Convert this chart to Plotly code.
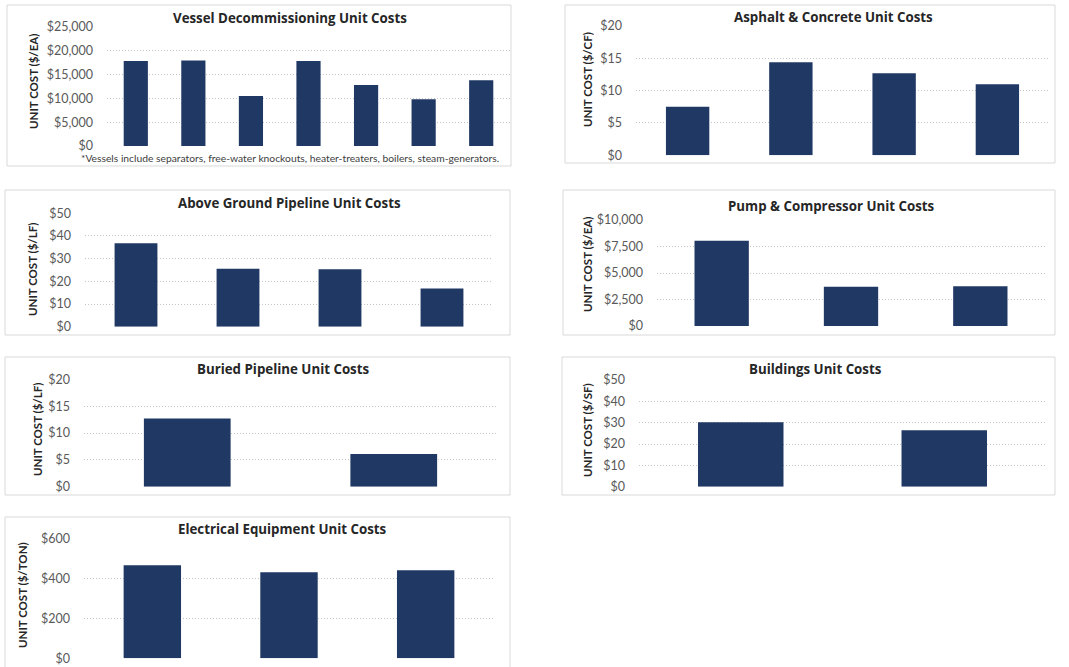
import plotly.graph_objects as go

W, H = 1069, 667

# ---- data -------------------------------------------------------------
vessel_costs = [17800, 17900, 10500, 17800, 12800, 9800, 13800]
asphalt_costs = [7.5, 14.4, 12.7, 11.0]
above_pipe_costs = [36.8, 25.6, 25.3, 16.8]
pump_costs = [8050, 3700, 3750]
buried_pipe_costs = [12.7, 6.1]
building_costs = [30.2, 26.4]
electrical_costs = [465, 430, 440]

vessel_ticks = [0, 5000, 10000, 15000, 20000, 25000]
asphalt_ticks = [0, 5, 10, 15, 20]
above_pipe_ticks = [0, 10, 20, 30, 40, 50]
pump_ticks = [0, 2500, 5000, 7500, 10000]
buried_pipe_ticks = [0, 5, 10, 15, 20]
building_ticks = [0, 10, 20, 30, 40, 50]
electrical_ticks = [0, 200, 400, 600]

titles = [
    "Vessel Decommissioning Unit Costs",
    "Asphalt & Concrete Unit Costs",
    "Above Ground Pipeline Unit Costs",
    "Pump & Compressor Unit Costs",
    "Buried Pipeline Unit Costs",
    "Buildings Unit Costs",
    "Electrical Equipment Unit Costs",
]
unit_labels = [
    "UNIT COST ($/EA)",
    "UNIT COST ($/CF)",
    "UNIT COST ($/LF)",
    "UNIT COST ($/EA)",
    "UNIT COST ($/LF)",
    "UNIT COST ($/SF)",
    "UNIT COST ($/TON)",
]
footnote = "*Vessels include separators, free-water knockouts, heater-treaters, boilers, steam-generators."

series = [vessel_costs, asphalt_costs, above_pipe_costs, pump_costs,
          buried_pipe_costs, building_costs, electrical_costs]
tick_sets = [vessel_ticks, asphalt_ticks, above_pipe_ticks, pump_ticks,
             buried_pipe_ticks, building_ticks, electrical_ticks]

# ---- layout geometry (pixels) ----------------------------------------
# plot areas: (x0, x1, y_top, y_bottom)
plot_boxes = [
    (107, 510, 26.7, 146),
    (636, 1049, 26, 155.3),
    (85, 493, 213.3, 326.7),
    (657, 1045, 220, 326),
    (84, 497, 379.3, 486.7),
    (639, 1046, 380, 486.7),
    (84, 494, 538.3, 658.3),
]
# panel frames: (x0, x1, y_top, y_bottom); None = open at the page bottom
frames = [
    (7, 511, 5, 166),
    (565, 1055, 5, 163),
    (5, 510, 190, 335),
    (563, 1055, 190, 335),
    (5, 510, 357, 495),
    (562, 1055, 357, 495),
    (5, 510, 517, None),
]
title_pos = [(290, 18), (833, 17), (289, 203), (831, 206), (283, 369), (815, 369), (282, 529)]
ylabel_pos = [(33, 82), (587, 80), (32, 270), (587, 265), (37, 430), (587, 430), (22, 595)]

BAR = "#203864"
FONT = "Lato"
TITLE_FONT = "Open Sans"
FRAME = dict(color="#d9d9d9", width=1)


def px(x):
    return x / W


def py(y):
    return 1 - y / H


def money(v):
    return "${:,.0f}".format(v)


fig = go.Figure()
shapes = []
annotations = []

for i, (vals, ticks) in enumerate(zip(series, tick_sets)):
    n = i + 1
    xa = "x" if n == 1 else f"x{n}"
    ya = "y" if n == 1 else f"y{n}"
    fig.add_trace(go.Bar(
        x=list(range(len(vals))), y=vals, width=0.42,
        marker=dict(color=BAR, line=dict(width=0)),
        xaxis=xa, yaxis=ya, showlegend=False,
        hovertemplate="%{y}<extra></extra>",
    ))
    x0, x1, yt, yb = plot_boxes[i]
    xkey = "xaxis" if n == 1 else f"xaxis{n}"
    ykey = "yaxis" if n == 1 else f"yaxis{n}"
    fig.layout[xkey] = dict(
        domain=[px(x0), px(x1)], range=[-0.5, len(vals) - 0.5],
        showticklabels=False, showgrid=False, zeroline=False,
        showline=False, ticks="", anchor=ya, fixedrange=True,
        automargin=False,
    )
    fig.layout[ykey] = dict(
        domain=[py(yb), py(yt)], range=[ticks[0], ticks[-1]],
        tickvals=ticks, ticktext=[money(t) for t in ticks],
        showgrid=True, gridcolor="#c4c4c4", griddash="1px,2px", gridwidth=1,
        zeroline=False, showline=False, ticks="",
        tickfont=dict(family=FONT, size=12.5, color="#595959"),
        ticklabelstandoff=13, anchor=xa, fixedrange=True,
        automargin=False,
    )
    fx0, fx1, fyt, fyb = frames[i]
    if fyb is None:
        # frame runs off the bottom of the page: draw left, top and right sides
        path = f"M {px(fx0)} 0 L {px(fx0)} {py(fyt)} L {px(fx1)} {py(fyt)} L {px(fx1)} 0"
        shapes.append(dict(type="path", xref="paper", yref="paper", path=path,
                           line=FRAME, layer="below"))
    else:
        shapes.append(dict(
            type="rect", xref="paper", yref="paper",
            x0=px(fx0), x1=px(fx1), y0=py(fyb), y1=py(fyt),
            line=FRAME, fillcolor="rgba(0,0,0,0)", layer="below",
        ))
    tx, ty = title_pos[i]
    annotations.append(dict(
        text="<b>" + titles[i] + "</b>", x=px(tx), y=py(ty),
        xref="paper", yref="paper", xanchor="center", yanchor="middle",
        showarrow=False, font=dict(family=TITLE_FONT, size=13.3, color="#262626"),
    ))
    lx, ly = ylabel_pos[i]
    annotations.append(dict(
        text="<b>" + unit_labels[i] + "</b>", x=px(lx), y=py(ly),
        xref="paper", yref="paper", xanchor="center", yanchor="middle",
        textangle=-90, showarrow=False,
        font=dict(family=FONT, size=11.5, color="#262626"),
    ))

annotations.append(dict(
    text=footnote, x=px(290), y=py(158.5), xref="paper", yref="paper",
    xanchor="center", yanchor="middle", showarrow=False,
    font=dict(family=FONT, size=10.3, color="#404040"),
))

fig.update_layout(
    width=W, height=H,
    margin=dict(l=0, r=0, t=0, b=0, autoexpand=False),
    paper_bgcolor="white", plot_bgcolor="white",
    shapes=shapes, annotations=annotations,
    showlegend=False,
)

# let the figure fill the page edge to edge
fig.write_html(
    "out.html",
    config={"displayModeBar": False},
    post_script="document.body.style.margin='0';",
)
